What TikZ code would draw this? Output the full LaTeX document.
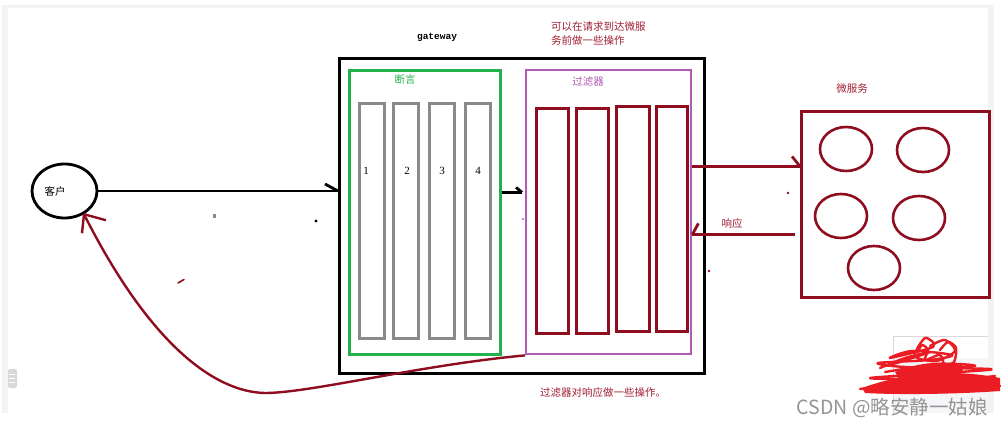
\documentclass[tikz,border=0pt]{standalone}
\usepackage{fontspec}
\setmainfont{Liberation Serif}
\newfontfamily\cjk{Noto Sans CJK SC}
\newfontfamily\monof{Liberation Mono}
\usetikzlibrary{shapes.geometric}
\definecolor{dred}{RGB}{142,14,32}
\definecolor{tred}{RGB}{160,34,52}
\definecolor{pgreen}{RGB}{34,177,76}
\definecolor{ppurple}{RGB}{176,92,181}
\definecolor{pgray}{RGB}{138,138,138}
\definecolor{scred}{RGB}{236,28,36}
\definecolor{frame}{RGB}{243,243,243}
\definecolor{panel}{RGB}{245,246,248}
\begin{document}
\begin{tikzpicture}[x=1pt,y=-1pt,
  box/.style={draw, inner sep=0pt, anchor=north west},
  gwbox/.style={box, black, line width=3pt},
  greenbox/.style={box, pgreen, line width=2.8pt},
  purplebox/.style={box, ppurple, line width=2.4pt},
  graybar/.style={box, pgray, line width=2.8pt, minimum width=25pt, minimum height=235pt},
  redbar/.style={box, dred, line width=2.8pt, minimum height=225pt},
  msbox/.style={box, dred, line width=2.8pt},
  svc/.style={ellipse, draw=dred, line width=2.6pt, minimum width=52pt, minimum height=44pt, inner sep=0pt},
  blk/.style={black, line width=2.8pt},
  rline/.style={dred, line width=2.8pt},
  cjklabel/.style={font=\cjk\fontsize{10.5}{12}\selectfont, inner sep=0pt},
  numlabel/.style={font=\fontsize{11}{12}\selectfont, inner sep=0pt},
  scrib/.style={scred, line width=2.4pt, line cap=round, line join=round}
]
\useasboundingbox (0,0) rectangle (1003,427);
% page frame
\fill[white] (0,0) rectangle (1003,427);
\fill[frame] (2,5) rectangle (994,413);
\fill[white] (8,8) rectangle (988,413);
% scroll icon
\fill[black!15, rounded corners=2pt] (8,369) rectangle (17,388);
\foreach \yy in {374,378,382} \draw[white, line width=0.8pt] (9,\yy) -- (15,\yy);
% grey panel bottom right
\fill[white] (893,336) rectangle (988,413);
\fill[panel] (894,358) rectangle (988,413);
\draw[black!15, line width=1pt] (988,336) -- (893,336) -- (893,413);

% client
\node[ellipse, draw, line width=2.8pt, minimum width=65pt, minimum height=54pt, inner sep=0pt] (client) at (64.5,191) {};
\node[cjklabel] (clientlbl) at (55,191) {客户};

% gateway
\node[gwbox, minimum width=365pt, minimum height=315pt] (gw) at (338,57) {};
\node[font=\monof\bfseries\fontsize{9.5}{10}\selectfont, inner sep=0pt] (gwlbl) at (437,37) {gateway};

% predicates
\node[greenbox, minimum width=151pt, minimum height=284pt] (green) at (348,69) {};
\node[cjklabel, text=pgreen] (greenlbl) at (405,80) {断言};
\node[graybar] (p1) at (358,102) {};
\node[graybar] (p2) at (392,102) {};
\node[graybar] (p3) at (428,102) {};
\node[graybar] (p4) at (464,102) {};
\node[numlabel] (n1) at (366,171) {1};
\node[numlabel] (n2) at (407,171) {2};
\node[numlabel] (n3) at (442,171) {3};
\node[numlabel] (n4) at (478,171) {4};

% filters
\node[purplebox, minimum width=165pt, minimum height=284pt] (purple) at (525,69) {};
\node[cjklabel, text=ppurple] (purplelbl) at (588,82) {过滤器};
\node[redbar, minimum width=32pt] (f1) at (535,107) {};
\node[redbar, minimum width=32pt] (f2) at (575,107) {};
\node[redbar, minimum width=33pt] (f3) at (615,105) {};
\node[redbar, minimum width=31pt] (f4) at (655,105) {};

% top / bottom notes
\node[cjklabel, text=tred, anchor=west, align=left, font=\cjk\fontsize{10.5}{14}\selectfont] (topnote) at (551,34) {可以在请求到达微服\\务前做一些操作};
\node[cjklabel, text=tred] (botnote) at (603,393) {过滤器对响应做一些操作。};

% microservices
\node[msbox, minimum width=188pt, minimum height=186pt] (ms) at (800,110) {};
\node[cjklabel, text=tred] (mslbl) at (852,89) {微服务};
\node[svc] (s1) at (846,149) {};
\node[svc] (s2) at (923,150) {};
\node[svc] (s3) at (841,216) {};
\node[svc] (s4) at (919,218) {};
\node[svc] (s5) at (874,268) {};

% client -> gateway
\draw[blk] (client.east) -- (client.east -| gw.west) coordinate (a1);
\draw[blk] (a1) -- ++(-13,-7);
% predicates -> filters
\coordinate (g0) at ([yshift=20pt]green.east);
\draw[blk] (g0) -- ([xshift=-3pt]g0 -| purple.west) coordinate (a2);
\draw[blk] (a2) -- ++(-6,-5);
% filters -> microservices
\coordinate (r1) at ([yshift=38pt]ms.west);
\draw[rline] (purple.east |- r1) -- (r1);
\draw[rline] (r1) -- ++(-8,-10);
% response
\coordinate (r2) at ([yshift=-30pt,xshift=-5pt]ms.west);
\draw[rline] (r2) -- (purple.east |- r2) coordinate (a3);
\draw[rline] (a3) -- ++(6,-11);
\node[cjklabel, text=tred] (resplbl) at (732,224) {响应};
% back to client
\draw[rline, line width=2.4pt] (purple.south west) .. controls (420,365) and (310,393) .. (265,393)
   .. controls (215,392) and (150,345) .. (client.-50) coordinate (a4);
\draw[rline, line width=2.4pt] (a4) -- ++(22,6);
\draw[rline, line width=2.4pt] (a4) -- ++(-2,19);

% stray marks
\fill[pgray] (212.5,214) rectangle (215.5,218);
\fill[black] (316,221) circle (1.6);
\fill[ppurple] (523,219) circle (1.1);
\fill[dred] (788,193) circle (1.3);
\fill[dred] (709,271) circle (1.3);
\draw[dred, line width=1.6pt, line cap=round] (178,283) -- (184,279.5);

% scribble
\fill[scred] (862,388) .. controls (900,374) and (950,368) .. (1000,378) -- (1000,391) .. controls (960,394) and (900,395) .. (865,393) -- cycle;
\fill[scred] (895,372) .. controls (920,362) and (945,360) .. (965,366) -- (960,375) -- (900,380) -- cycle;
\draw[scrib] plot[smooth] coordinates {(860,389) (920,384) (1000,386) (930,380) (870,378) (960,372) (990,369) (905,367) (878,363) (930,360) (952,355) (912,351) (890,358) (933,347) (925,338) (915,356) (936,361) (955,351) (945,340) (930,346)};
\draw[scrib] plot[smooth] coordinates {(885,372) (940,364) (975,366) (920,372) (890,384) (950,381) (995,376)};
\draw[scrib] plot[smooth] coordinates {(918,352) (922,345) (928,350) (925,360) (940,355) (944,366)};
\draw[scrib] plot[smooth] coordinates {(880,368) (905,358) (930,352) (900,362) (885,366)};
\draw[scrib] plot[smooth] coordinates {(940,350) (948,342) (956,348) (954,362) (945,365)};

% watermark
\node[anchor=east, text=black!42, font=\cjk\fontsize{19.5}{21}\selectfont, inner sep=0pt] (wm) at (988,408) {CSDN @略安静一姑娘};
\end{tikzpicture}
\end{document}
